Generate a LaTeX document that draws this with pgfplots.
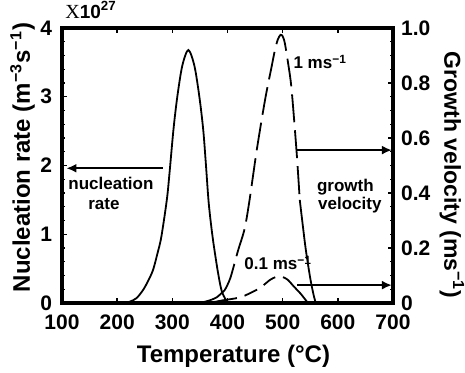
\documentclass[border=0pt]{standalone}
\usepackage{fontspec}
\setmainfont{Liberation Sans}
\newfontfamily\serifX{Liberation Serif}
\usepackage{pgfplots}
\pgfplotsset{compat=1.18}
\usetikzlibrary{arrows.meta}
\begin{document}
\begin{tikzpicture}
\pgfplotsset{
  every axis/.append style={
    scale only axis, width=165.5pt, height=137.5pt,
    at={(0,0)}, anchor=south west,
    xmin=100, xmax=700,
    /pgf/number format/assume math mode=true,
    tick label style={font=\fontsize{10.5}{12}\selectfont\bfseries},
    major tick length=2.4pt, minor tick length=1.3pt,
    tick style={black, line width=0.7pt},
    tick align=inside,
    clip=false,
  }
}
\begin{axis}[
  ymin=0, ymax=4,
  xtick={100,200,...,700}, ytick={0,1,2,3,4},
  minor y tick num=4,
  xticklabel pos=lower, xtick pos=both, ytick pos=left,
  axis line style={line width=1.7pt},
  xticklabel style={yshift=-2.5pt},
  yticklabel style={xshift=-1.5pt},
]
\addplot[smooth, line width=0.9pt, black] coordinates {
(215,0) (223,0.02) (235,0.07) (247,0.19) (256,0.32) (265,0.48) (273,0.72) (280,0.96) (290,1.5) (295,1.9) (302,2.52) (309,3.0) (318,3.45) (329,3.68) (340,3.45) (349,3.0) (356,2.52) (361,2.0) (366,1.45) (373,0.96) (382,0.48) (389,0.19) (396,0.06) (402,0.01) (410,0)
};
\draw[line width=1pt, -{Latex[length=5pt,width=4.5pt]}] (axis cs:283,1.96) -- (axis cs:108,1.96);
\node[anchor=base west, font=\fontsize{8.5}{10}\selectfont\bfseries, inner sep=0pt] at (axis cs:111,1.644) {nucleation};
\node[anchor=base west, font=\fontsize{8.5}{10}\selectfont\bfseries, inner sep=0pt] at (axis cs:147,1.353) {rate};
\node[anchor=base, font=\fontsize{8.5}{10}\selectfont\bfseries, inner sep=0pt] at (axis cs:613.6,1.616) {growth};
\node[anchor=base, font=\fontsize{8.5}{10}\selectfont\bfseries, inner sep=0pt] at (axis cs:621.7,1.353) {velocity};
\node[rotate=90, anchor=base, font=\fontsize{12}{14}\selectfont\bfseries, inner sep=0pt] at (rel axis cs:-0.0967,0.529) {Nucleation rate (m\textsuperscript{−3}s\textsuperscript{−1})};
\node[anchor=base, font=\fontsize{12}{14}\selectfont\bfseries, inner sep=0pt] at (rel axis cs:0.518,-0.2145) {Temperature (°C)};
\end{axis}
\begin{axis}[
  ymin=0, ymax=1,
  axis x line=none, axis y line*=right,
  ytick={0,0.2,0.4,0.6,0.8,1.0},
  yticklabels={0,0.2,0.4,0.6,0.8,1.0},
  minor y tick num=3,
  axis line style={line width=1.7pt, -},
  yticklabel style={xshift=0.5pt},
]
% 1 m/s curve
\addplot[smooth, line width=0.9pt, black] coordinates {
(350,0) (365,0.008) (380,0.02) (395,0.047)
};
\addplot[smooth, line width=0.9pt, black, dash pattern=on 14pt off 4pt] coordinates {
(395,0.047) (405,0.09) (419,0.19) (431,0.27) (440,0.375) (453,0.556) (468,0.738) (480,0.86) (486,0.92) (491,0.957) (496,0.975) (500,0.97) (504,0.944) (510,0.87) (516,0.78) (525,0.556) (531,0.375)
};
\addplot[smooth, line width=0.9pt, black] coordinates {
(531,0.375) (536,0.29) (542,0.193) (550,0.09) (556,0.03) (560,0)
};
% 0.1 m/s curve
\addplot[smooth, line width=0.9pt, black] coordinates {
(350,0) (370,0.002) (392,0.01)
};
\addplot[smooth, line width=0.9pt, black, dash pattern=on 7pt off 4pt] coordinates {
(392,0.01) (422,0.02) (440,0.035) (459,0.055) (477,0.084) (487,0.094) (495,0.097) (503,0.092) (510,0.083) (518,0.065)
};
\addplot[smooth, line width=0.9pt, black] coordinates {
(518,0.065) (525,0.05) (533,0.033) (540,0.015) (546,0)
};
\draw[line width=1pt, -{Latex[length=5pt,width=4.5pt]}] (axis cs:526,0.556) -- (axis cs:698,0.556);
\draw[line width=1pt, -{Latex[length=5pt,width=4.5pt]}] (axis cs:526,0.065) -- (axis cs:698,0.065);
\node[anchor=west, font=\fontsize{8.5}{10}\selectfont\bfseries, inner sep=0pt] at (axis cs:519,0.876) {1 ms\textsuperscript{−1}};
\node[anchor=west, font=\fontsize{8.5}{10}\selectfont\bfseries, inner sep=0pt] at (axis cs:430,0.145) {0.1 ms\textsuperscript{−1}};
\node[rotate=-90, anchor=base, font=\fontsize{11.5}{14}\selectfont\bfseries, inner sep=0pt] at (rel axis cs:1.155,0.465) {Growth velocity (ms\textsuperscript{−1})};
\end{axis}
\node[anchor=base west, inner sep=0pt] at (1.5pt,142.5pt) {{\serifX\fontsize{10}{12}\selectfont X}\fontsize{9.5}{11}\selectfont\bfseries 10\textsuperscript{27}};
\pgfresetboundingbox
\useasboundingbox (-31pt,-34.5pt) rectangle (201.5pt,151.5pt);
\end{tikzpicture}
\end{document}
